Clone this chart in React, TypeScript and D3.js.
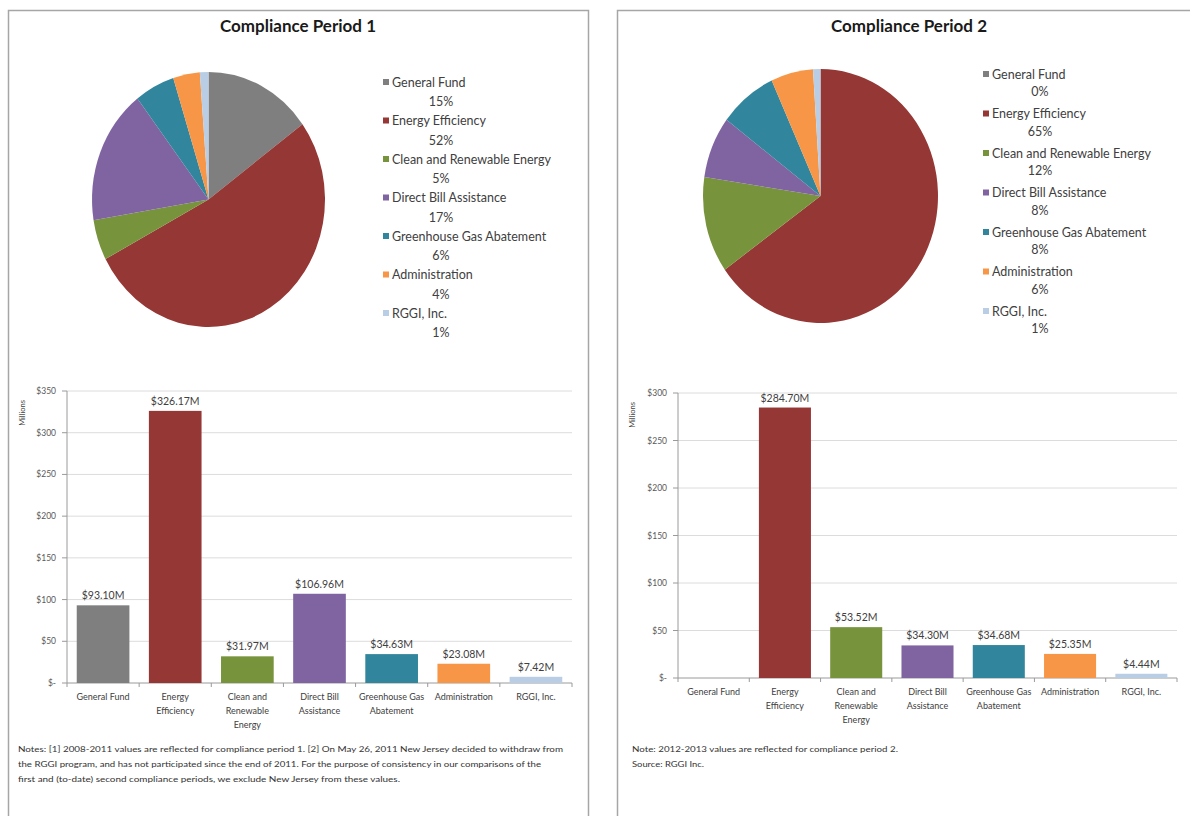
import * as d3 from "d3";

const categories = [
  "General Fund",
  "Energy Efficiency",
  "Clean and Renewable Energy",
  "Direct Bill Assistance",
  "Greenhouse Gas Abatement",
  "Administration",
  "RGGI, Inc.",
];
const axisLabels = [
  ["General Fund"],
  ["Energy", "Efficiency"],
  ["Clean and", "Renewable", "Energy"],
  ["Direct Bill", "Assistance"],
  ["Greenhouse Gas", "Abatement"],
  ["Administration"],
  ["RGGI, Inc."],
];
const period1Values = [93.1, 326.17, 31.97, 106.96, 34.63, 23.08, 7.42];
const period2Values = [0, 284.7, 53.52, 34.3, 34.68, 25.35, 4.44];
const period1Ticks = [0, 50, 100, 150, 200, 250, 300, 350];
const period2Ticks = [0, 50, 100, 150, 200, 250, 300];
const colors = ["#7f7f7f", "#953735", "#77933c", "#8064a2", "#31859c", "#f79646", "#b9cde5"];

const period1Notes = [
  "Notes: [1] 2008-2011 values are reflected for compliance period 1. [2] On May 26, 2011 New Jersey decided to withdraw from",
  "the RGGI program, and has not participated since the end of 2011. For the purpose of consistency in our comparisons of the",
  "first and (to-date) second compliance periods, we exclude New Jersey from these values.",
];
const period2Notes = [
  "Note: 2012-2013 values are reflected for compliance period 2.",
  "Source: RGGI Inc.",
];

const FONT = "Lato, 'Open Sans', sans-serif";

type Layout = {
  title: string;
  titleX: number;
  pieCx: number;
  pieCy: number;
  rx: number;
  ry: number;
  legendX: number;
  legendY: number;
  legendStep: number;
  pctDy: number;
  pctX: number;
  axX0: number;
  axX1: number;
  axY0: number;
  axY1: number;
  max: number;
  ticks: number[];
  millionsX: number;
  notesX: number;
  notesY: number;
  notesWidths: number[];
};

function Panel({ values, notes, L }: { values: number[]; notes: string[]; L: Layout }) {
  const total = d3.sum(values);
  const pie = d3.pie<number>().sort(null).value((d) => d);
  const arc = d3.arc<d3.PieArcDatum<number>>().innerRadius(0).outerRadius(L.rx);
  const pct = d3.format(".0%");

  const x = d3
    .scaleBand<string>()
    .domain(categories)
    .range([L.axX0, L.axX1])
    .paddingInner(0.27)
    .paddingOuter(0.135);
  const y = d3.scaleLinear().domain([0, L.max]).range([L.axY0, L.axY1]);
  const step = x.step();
  const fmt = d3.format("$.2f");

  return (
    <g fontFamily={FONT}>
      <text x={L.titleX} y={32} textAnchor="middle" fontSize={17} fontWeight="bold" fill="#1a1a1a">
        {L.title}
      </text>

      <g transform={`translate(${L.pieCx},${L.pieCy}) scale(1,${L.ry / L.rx})`}>
        {pie(values).map((d, i) => (
          <path key={i} d={arc(d) ?? ""} fill={colors[i]} />
        ))}
      </g>

      {categories.map((c, i) => {
        const yy = L.legendY + i * L.legendStep;
        return (
          <g key={c}>
            <rect x={L.legendX - 9} y={yy - 3} width={6} height={6} fill={colors[i]} />
            <text x={L.legendX} y={yy + 4.5} fontSize={12.5} fill="#404040">
              {c}
            </text>
            <text x={L.pctX} y={yy + L.pctDy + 4.5} fontSize={12.5} fill="#404040" textAnchor="middle">
              {pct(values[i] / total)}
            </text>
          </g>
        );
      })}

      {L.ticks.map((t) => (
        <g key={t}>
          {t > 0 && (
            <line x1={L.axX0} x2={L.axX1} y1={y(t)} y2={y(t)} stroke="#dcdcdc" strokeWidth={1} />
          )}
          <line x1={L.axX0 - 5} x2={L.axX0} y1={y(t)} y2={y(t)} stroke="#9a9a9a" />
          <text x={L.axX0 - 11} y={y(t) + 3} fontSize={8.5} fill="#595959" textAnchor="end">
            {t === 0 ? "$-" : `$${t}`}
          </text>
        </g>
      ))}
      <text
        transform={`translate(${L.millionsX},${L.axY1 + 22}) rotate(-90)`}
        fontSize={7.5}
        fill="#404040"
        textAnchor="middle"
      >
        Millions
      </text>
      <line x1={L.axX0} x2={L.axX0} y1={L.axY1} y2={L.axY0} stroke="#9a9a9a" />
      <line x1={L.axX0} x2={L.axX1} y1={L.axY0} y2={L.axY0} stroke="#9a9a9a" />
      {d3.range(categories.length + 1).map((i) => (
        <line
          key={i}
          x1={L.axX0 + i * step}
          x2={L.axX0 + i * step}
          y1={L.axY0}
          y2={L.axY0 + 4}
          stroke="#9a9a9a"
        />
      ))}

      {categories.map((c, i) => {
        const v = values[i];
        const bx = x(c) ?? 0;
        return (
          <g key={c}>
            {v > 0 && (
              <>
                <rect x={bx} y={y(v)} width={x.bandwidth()} height={L.axY0 - y(v)} fill={colors[i]} />
                <text
                  x={bx + x.bandwidth() / 2}
                  y={y(v) - 6}
                  fontSize={10.5}
                  fill="#404040"
                  textAnchor="middle"
                >
                  {fmt(v) + "M"}
                </text>
              </>
            )}
            {axisLabels[i].map((line, k) => (
              <text
                key={k}
                x={bx + x.bandwidth() / 2}
                y={L.axY0 + 17 + k * 14}
                fontSize={9}
                fill="#404040"
                textAnchor="middle"
              >
                {line}
              </text>
            ))}
          </g>
        );
      })}

      {notes.map((n, i) => (
        <text
          key={i}
          x={L.notesX}
          y={L.notesY + i * 15}
          fontSize={7.6}
          fill="#333"
          textLength={L.notesWidths[i]}
          lengthAdjust="spacingAndGlyphs"
        >
          {n}
        </text>
      ))}
    </g>
  );
}

const layout1: Layout = {
  title: "Compliance Period 1",
  titleX: 298,
  pieCx: 208.5,
  pieCy: 199.5,
  rx: 116.5,
  ry: 127.5,
  legendX: 392,
  legendY: 82,
  legendStep: 38.5,
  pctDy: 19.5,
  pctX: 441,
  axX0: 67,
  axX1: 572,
  axY0: 683,
  axY1: 391,
  max: 350,
  ticks: period1Ticks,
  millionsX: 25,
  notesX: 18,
  notesY: 752,
  notesWidths: [545, 523, 382],
};

const layout2: Layout = {
  title: "Compliance Period 2",
  titleX: 909,
  pieCx: 820.5,
  pieCy: 196,
  rx: 117.5,
  ry: 127,
  legendX: 992,
  legendY: 74,
  legendStep: 39.5,
  pctDy: 17.5,
  pctX: 1040,
  axX0: 678,
  axX1: 1177,
  axY0: 678,
  axY1: 393,
  max: 300,
  ticks: period2Ticks,
  millionsX: 635,
  notesX: 632,
  notesY: 752,
  notesWidths: [266, 72],
};

export default function App() {
  return (
    <svg
      width={1190}
      height={816}
      style={{ position: "absolute", left: 0, top: 0, background: "#fff" }}
    >
      <rect x={0} y={0} width={1190} height={816} fill="#fff" />
      <rect x={8.5} y={10.5} width={580} height={820} fill="none" stroke="#a6a6a6" strokeWidth={1.5} />
      <rect x={617.5} y={10.5} width={600} height={820} fill="none" stroke="#a6a6a6" strokeWidth={1.5} />
      <Panel values={period1Values} notes={period1Notes} L={layout1} />
      <Panel values={period2Values} notes={period2Notes} L={layout2} />
    </svg>
  );
}
